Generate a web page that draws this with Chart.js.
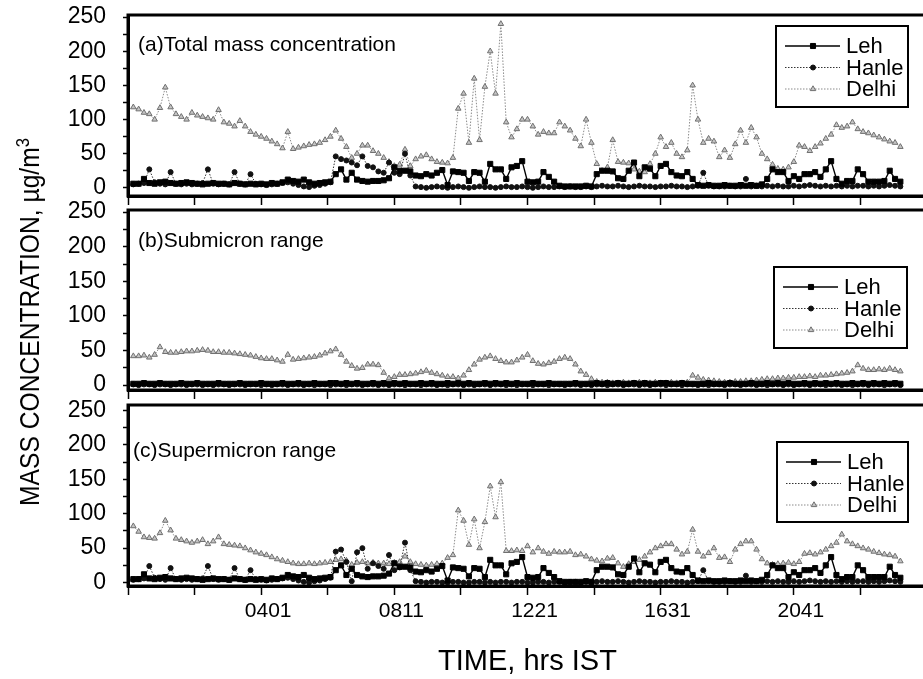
<!DOCTYPE html>
<html><head><meta charset="utf-8">
<script src="https://cdn.jsdelivr.net/npm/chart.js@4.4.1/dist/chart.umd.min.js"></script>
<style>
html,body{margin:0;padding:0;background:#fff;width:923px;height:679px;overflow:hidden;position:relative;}
canvas{position:absolute;left:0;}
#ytitle{position:absolute;left:30px;top:322px;transform:translate(-50%,-50%) rotate(-90deg) scaleX(0.88);white-space:nowrap;font-family:'Liberation Sans',Arial,sans-serif;font-size:28px;color:#000;line-height:1;}
#ytitle sup{font-size:19px;vertical-align:0.55em;line-height:0;}
</style></head><body>
<canvas id="ca" width="935" height="206" style="top:0"></canvas>
<canvas id="cb" width="935" height="206" style="top:196px"></canvas>
<canvas id="cc" width="935" height="289" style="top:390px"></canvas>
<div id="ytitle">MASS CONCENTRATION, µg/m<sup>3</sup></div>
<script>
// time axis: minutes from the start of the record (10-min samples)
const times = [10,20,30,40,50,60,70,80,90,100,110,120,130,140,150,160,170,180,190,200,
210,220,230,240,250,260,270,280,290,300,310,320,330,340,350,360,370,380,390,400,
410,420,430,440,450,460,470,480,490,500,510,520,530,540,550,560,570,580,590,600,
610,620,630,640,650,660,670,680,690,700,710,720,730,740,750,760,770,780,790,800,
810,820,830,840,850,860,870,880,890,900,910,920,930,940,950,960,970,980,990,1000,
1010,1020,1030,1040,1050,1060,1070,1080,1090,1100,1110,1120,1130,1140,1150,1160,1170,1180,1190,1200,
1210,1220,1230,1240,1250,1260,1270,1280,1290,1300,1310,1320,1330,1340,1350,1360,1370,1380,1390,1400,
1410,1420,1430,1440,1450];

const seriesNames = ['Leh','Hanle','Delhi'];
const panelLabels = ['(a)Total mass concentration','(b)Submicron range','(c)Supermicron range'];
const tickMinutes = [250,500,750,1000,1250];
const tickLabels = ['0401','0811','1221','1631','2041'];
const yTickValues = [0,50,100,150,200,250];

// (a) total mass concentration
const lehTotal = [6,6,13,7,6,8,9,7,6,7, 8,7,6,5,6,7,6,6,5,7, 6,5,6,5,6,5,7,6,8,12,
10,9,12,8,6,7,8,9,20,27, 12,22,12,10,9,10,10,11,14,30, 25,25,24,18,17,20,18,22,26,4,
24,23,22,10,23,22,9,35,27,27, 13,30,32,39,9,8,9,23,16,9, 3,2,2,2,2,3,2,20,25,25,
24,14,13,25,37,17,30,28,17,32, 35,23,18,17,23,13,4,3,4,3, 3,4,3,3,4,3,4,3,5,13,
27,23,23,10,17,13,20,20,23,16, 27,39,13,6,10,10,27,20,9,9, 9,10,25,13,9];
const hanleTotal = [5,6,7,27,8,6,5,23,6,5, 6,5,6,7,27,6,5,6,5,23, 6,5,20,6,5,4,5,6,7,8,
6,4,2,1,3,4,6,8,46,42, 40,37,33,46,32,30,24,22,37,22, 20,50,18,2,1,0,1,2,1,0,
1,2,1,0,1,2,1,1,0,1, 2,1,1,2,1,0,1,2,1,1, 2,1,2,1,1,2,1,2,3,2,
2,3,2,1,2,3,2,2,1,2, 2,3,2,2,1,2,3,22,3,2, 2,2,3,2,2,13,2,3,2,3,
2,3,2,2,3,2,3,4,3,2, 3,2,3,2,3,2,3,3,2,3, 2,3,4,3,2];
const delhiTotal = [118,115,110,108,100,117,147,118,108,104, 100,110,106,104,102,100,114,96,94,90,
98,90,82,78,75,72,68,64,58,82, 57,59,61,63,64,66,70,75,84,72, 60,44,50,62,62,54,50,44,38,32,
34,56,32,42,46,48,42,38,37,36, 44,116,138,66,160,70,148,200,138,240, 96,74,86,100,100,90,78,82,80,80,
96,90,84,72,61,100,66,35,25,30, 70,38,37,36,27,24,23,35,50,74, 60,66,50,45,55,150,100,66,72,68,
45,55,44,64,84,66,88,74,50,42, 34,28,27,30,38,62,60,54,60,65, 72,78,92,88,90,96,86,82,80,77,
74,71,68,66,60];

// (b) submicron range
const lehSub = [2,2,3,2,2,3,2,2,2,3, 2,2,3,2,2,2,3,2,2,2, 3,2,2,2,3,2,2,2,3,2,
2,3,2,2,3,2,2,3,3,2, 3,2,3,2,2,3,2,3,2,3, 2,3,2,2,3,2,3,2,2,3,
2,3,2,3,2,2,3,2,3,2, 3,2,3,2,2,3,2,2,3,2, 2,2,2,3,2,2,2,3,2,3,
2,3,2,2,3,2,3,2,2,3, 3,2,2,3,2,2,2,2,3,2, 2,2,3,2,2,2,3,2,2,3,
2,3,2,3,2,2,3,2,3,2, 3,2,3,2,2,3,2,3,2,3, 2,3,2,3,2];
const hanleSub = [1,0,1,1,0,1,1,0,1,1, 0,1,1,0,1,0,1,1,0,1, 1,0,1,1,0,1,0,1,1,0,
1,1,0,1,0,1,1,0,1,1, 0,1,1,0,1,1,0,1,0,1, 1,0,1,1,0,1,1,0,1,0,
1,1,0,1,0,1,1,0,1,1, 0,1,0,1,1,0,1,1,0,1, 1,0,1,1,0,1,0,1,1,0,
1,1,0,1,1,0,1,0,1,1, 0,1,1,0,1,1,0,1,0,1, 1,0,1,1,0,1,1,0,1,0,
1,1,0,1,0,1,1,0,1,1, 0,1,1,0,1,0,1,1,0,1, 1,0,1,1,0];
const delhiSub = [42,42,43,40,44,55,48,47,47,48, 49,49,50,51,50,48,48,47,47,46,
45,44,43,41,39,38,38,36,34,44, 37,38,39,40,41,43,46,49,52,44, 34,28,24,25,30,30,29,18,10,12,
15,15,16,17,19,21,18,16,14,12, 12,10,14,22,30,37,40,42,38,35, 33,33,36,40,44,35,31,30,32,34,
38,40,38,30,20,15,9,5,4,4, 3,3,4,3,3,4,3,3,4,3, 3,4,3,3,4,14,11,8,7,6,
5,4,4,5,5,6,6,7,8,9, 9,10,10,11,11,12,12,13,12,14, 14,15,16,17,18,20,29,24,22,22,
23,22,24,22,20];

// (c) supermicron range
const lehSuper = [5,5,12,6,5,7,8,6,5,6, 7,6,5,4,5,6,5,5,4,6, 5,4,5,4,5,4,6,5,7,11,
9,8,11,7,5,6,7,8,18,25, 11,20,11,9,8,9,9,10,13,28, 23,23,22,16,15,18,16,20,24,3,
22,21,20,9,21,20,8,33,25,25, 12,28,30,37,8,7,8,21,14,8, 2,1,1,1,1,2,1,18,23,23,
22,12,11,23,35,15,28,26,15,30, 33,21,16,15,21,11,3,2,3,2, 2,3,2,2,3,2,3,2,4,11,
25,21,21,8,15,11,18,18,21,14, 25,37,11,5,8,8,25,18,8,8, 8,8,23,11,7];
const hanleSuper = [4,5,6,24,7,5,4,21,5,4, 5,4,5,6,24,5,4,5,4,21, 5,4,18,5,4,3,4,5,6,7,
5,3,1,0,2,3,5,7,45,48, 30,2,44,50,20,28,24,20,40,18, 22,58,18,2,1,0,1,1,0,0,
1,1,0,0,1,1,0,1,0,1, 1,0,1,1,0,0,1,1,0,1, 1,0,1,1,0,1,1,1,2,1,
1,2,1,0,1,2,1,1,0,1, 1,2,1,1,0,1,2,18,2,1, 1,1,2,1,1,10,1,2,1,2,
1,2,1,1,2,1,2,3,2,1, 2,1,2,1,2,1,2,2,1,2, 1,2,3,2,1];
const delhiSuper = [82,74,66,65,64,72,90,76,64,62, 60,58,60,62,56,60,66,56,55,54,
53,50,47,44,42,40,37,34,32,30, 28,27,27,28,27,28,29,30,33,34, 32,26,29,30,28,29,28,28,27,29,
30,38,30,27,26,25,26,27,28,36, 40,105,90,55,92,50,88,140,95,146, 46,46,47,46,53,44,50,45,42,45,
44,44,45,40,41,38,34,32,31,35, 36,28,23,27,30,33,38,44,50,53, 56,56,48,41,45,77,45,38,43,50,
36,37,30,48,56,60,60,48,34,28, 26,27,28,29,27,30,42,43,41,44, 48,53,58,70,60,56,53,50,48,45,
43,41,40,38,31];

const SANS = '"Liberation Sans", Arial, Helvetica, sans-serif';

const styles = [
  {borderColor:'#000', borderWidth:1.4, borderDash:[], pointStyle:'rect', pointRadius:3.6, pointBackgroundColor:'#000', pointBorderColor:'#000'},
  {borderColor:'#333', borderWidth:1, borderDash:[1.5,1.5], pointStyle:'circle', pointRadius:2.5, pointBackgroundColor:'#111', pointBorderColor:'#111'},
  {borderColor:'#8a8a8a', borderWidth:1, borderDash:[1.5,1.5], pointStyle:'triangle', pointRadius:3.2, pointBackgroundColor:'#c4c4c4', pointBorderColor:'#707070'}
];

function marker(ctx, style, r, x, y){
  ctx.beginPath();
  if(style==='rect'){ const s=r*Math.SQRT1_2; ctx.rect(x-s,y-s,2*s,2*s); }
  else if(style==='circle'){ ctx.arc(x,y,r,0,Math.PI*2); }
  else { ctx.moveTo(x,y-r); ctx.lineTo(x-r*0.87,y+r*0.5); ctx.lineTo(x+r*0.87,y+r*0.5); ctx.closePath(); }
  ctx.fill(); ctx.stroke();
}

const deco = {
  id:'deco',
  afterDraw(chart, args, o){
    const ctx=chart.ctx, a=chart.chartArea;
    ctx.save();
    ctx.strokeStyle='#000'; ctx.lineWidth=3; ctx.setLineDash([]);
    ctx.strokeRect(a.left, a.top, a.right-a.left, a.bottom-a.top);
    ctx.fillStyle='#000'; ctx.font='21px '+SANS; ctx.textBaseline='middle'; ctx.textAlign='left';
    ctx.fillText(o.label, a.left+o.labelDx, a.top+o.labelDy);
    const bx=o.legX, by=a.top+o.legDy, bw=o.legW, bh=o.legH;
    ctx.lineWidth=2; ctx.strokeRect(bx,by,bw,bh);
    chart.data.datasets.forEach((ds,i)=>{
      const y=by+o.rowY0+i*o.rowGap;
      ctx.save();
      ctx.strokeStyle=ds.borderColor; ctx.lineWidth=ds.borderWidth; ctx.setLineDash(ds.borderDash||[]);
      ctx.beginPath(); ctx.moveTo(bx+9,y); ctx.lineTo(bx+64,y); ctx.stroke();
      ctx.setLineDash([]);
      ctx.fillStyle=ds.pointBackgroundColor; ctx.strokeStyle=ds.pointBorderColor; ctx.lineWidth=1;
      marker(ctx, ds.pointStyle, ds.pointRadius, bx+37, y);
      ctx.restore();
      ctx.fillStyle='#000'; ctx.font='22px '+SANS; ctx.textBaseline='middle'; ctx.textAlign='left';
      ctx.fillText(ds.label, bx+70, y+1);
    });
    ctx.restore();
  }
};

function makeDatasets(arrs){
  return arrs.map((vals,i)=>Object.assign({
    label: seriesNames[i],
    data: times.map((t,k)=>({x:t, y:vals[k]})),
    fill:false, tension:0, pointBorderWidth:1, pointHoverRadius:0
  }, styles[i]));
}

function yScale(min,max){
  return {
    type:'linear', position:'left', min:min, max:max,
    afterBuildTicks(s){ s.ticks = s.ticks.filter(t=>t.value>=0 && t.value<=250 && t.value%25===0); },
    afterFit(s){ s.width=128; s.paddingTop=0; s.paddingBottom=0; },
    ticks:{stepSize:25, includeBounds:false, autoSkip:false, padding:17, color:'#000',
      font:{family:SANS, size:23}, callback:v=> yTickValues.includes(v)? String(v):''},
    grid:{drawOnChartArea:false, drawTicks:true, tickLength:5, tickWidth:1.5, tickColor:'#000'},
    border:{display:true, color:'#000', width:3}
  };
}
function xScale(bottom, h){
  return {
    type:'linear', position:'bottom', min:0, max:1500,
    afterBuildTicks(s){ s.ticks = s.ticks.filter(t=>t.value%125===0); },
    afterFit(s){ s.height=h; s.paddingLeft=0; s.paddingRight=0; },
    ticks:{stepSize:125, includeBounds:false, autoSkip:false, maxRotation:0, minRotation:0, display:bottom,
      padding:4, labelOffset:7, color:'#000', font:{family:SANS, size:21},
      callback:v=>{ const k=tickMinutes.indexOf(v); return k<0?'':tickLabels[k]; }},
    grid:{drawOnChartArea:false, drawTicks:true, tickLength:9, tickWidth:1.5, tickColor:'#000'},
    border:{display:true, color:'#000', width:3},
    title: bottom ? {display:true, text:'TIME, hrs IST', color:'#000', font:{family:SANS, size:29}, padding:{top:0,bottom:0}} : {display:false}
  };
}

function makeChart(id, arrs, cfg){
  return new Chart(document.getElementById(id), {
    type:'line',
    data:{datasets: makeDatasets(arrs)},
    options:{
      responsive:false, animation:false, devicePixelRatio:1, parsing:true,
      layout:{padding:{left:0, right:8, top:cfg.top, bottom:0}},
      plugins:{legend:{display:false}, tooltip:{enabled:false}, deco:cfg.deco},
      scales:{x:xScale(cfg.bottom, cfg.xh), y:yScale(cfg.ymin, cfg.ymax)}
    },
    plugins:[deco]
  });
}

makeChart('ca', [lehTotal, hanleTotal, delhiTotal], {top:15, xh:10, bottom:false, ymin:-12, ymax:253,
  deco:{label:panelLabels[0], labelDx:10, labelDy:30, legX:776, legDy:11, legW:132, legH:81, rowY0:20, rowGap:21.5}});
makeChart('cb', [lehSub, hanleSub, delhiSub], {top:14, xh:12, bottom:false, ymin:-7, ymax:253,
  deco:{label:panelLabels[1], labelDx:10, labelDy:31, legX:774, legDy:57, legW:133, legH:81, rowY0:20, rowGap:21.5}});
makeChart('cc', [lehSuper, hanleSuper, delhiSuper], {top:15, xh:93, bottom:true, ymin:-5, ymax:258,
  deco:{label:panelLabels[2], labelDx:5, labelDy:46, legX:777, legDy:37, legW:131, legH:80, rowY0:20, rowGap:21.5}});
</script>
</body></html>
